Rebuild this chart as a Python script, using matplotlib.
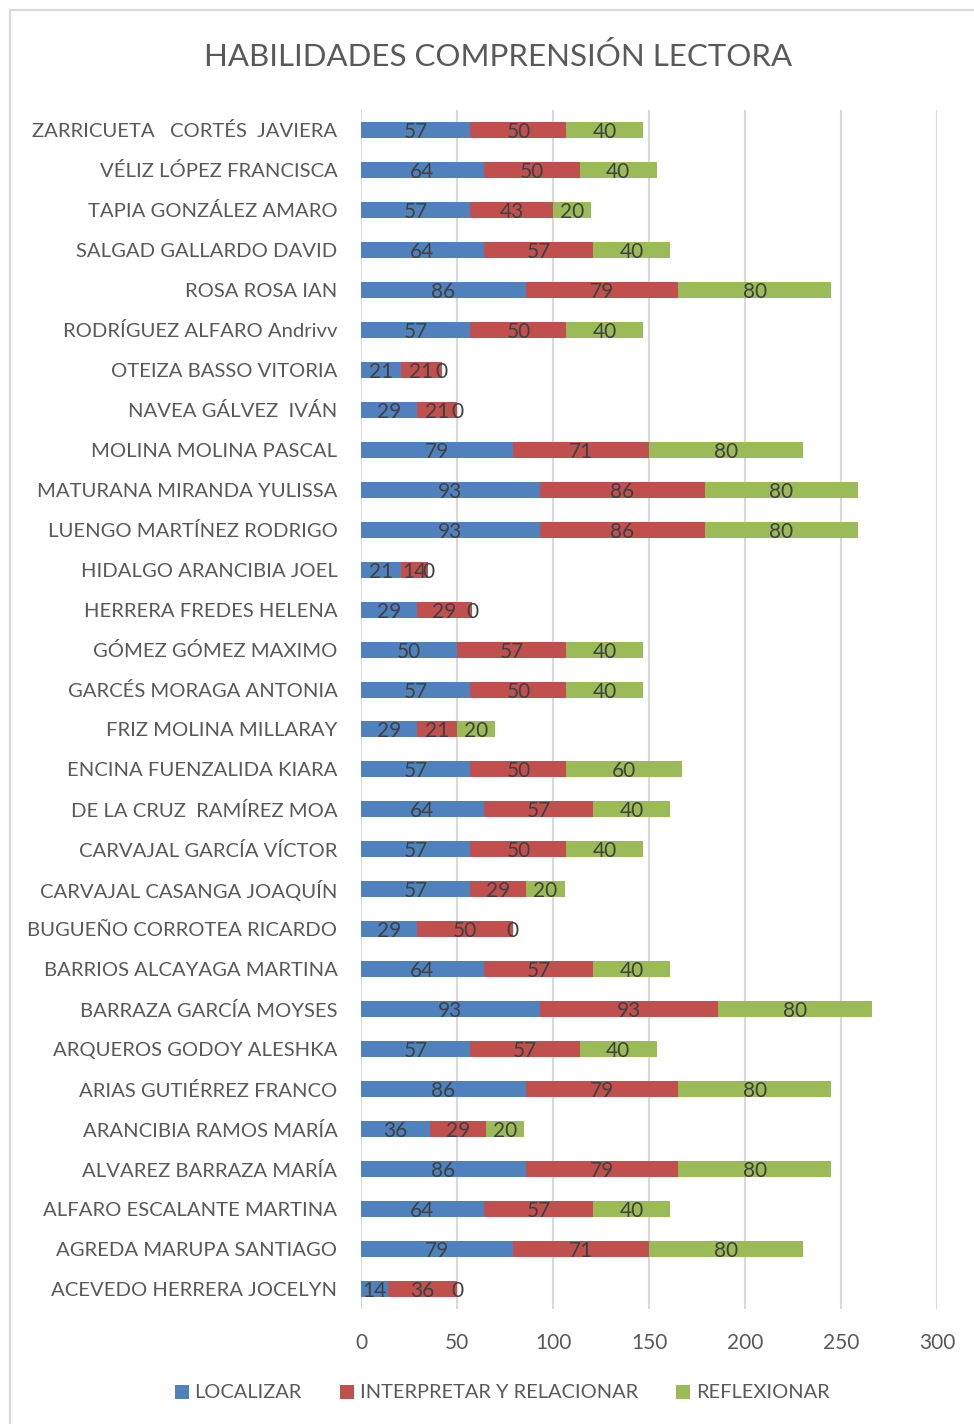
import numpy as np
import matplotlib.pyplot as plt
from matplotlib.patches import Rectangle

plt.rcParams['font.family'] = ['Lato', 'DejaVu Sans']

# categories listed top to bottom as in the chart
students = [
    'ZARRICUETA   CORTÉS  JAVIERA', 'VÉLIZ LÓPEZ FRANCISCA', 'TAPIA GONZÁLEZ AMARO',
    'SALGAD GALLARDO DAVID', 'ROSA ROSA IAN', 'RODRÍGUEZ ALFARO Andrivv',
    'OTEIZA BASSO VITORIA', 'NAVEA GÁLVEZ  IVÁN', 'MOLINA MOLINA PASCAL',
    'MATURANA MIRANDA YULISSA', 'LUENGO MARTÍNEZ RODRIGO', 'HIDALGO ARANCIBIA JOEL',
    'HERRERA FREDES HELENA', 'GÓMEZ GÓMEZ MAXIMO', 'GARCÉS MORAGA ANTONIA',
    'FRIZ MOLINA MILLARAY', 'ENCINA FUENZALIDA KIARA', 'DE LA CRUZ  RAMÍREZ MOA',
    'CARVAJAL GARCÍA VÍCTOR', 'CARVAJAL CASANGA JOAQUÍN', 'BUGUEÑO CORROTEA RICARDO',
    'BARRIOS ALCAYAGA MARTINA', 'BARRAZA GARCÍA MOYSES', 'ARQUEROS GODOY ALESHKA',
    'ARIAS GUTIÉRREZ FRANCO', 'ARANCIBIA RAMOS MARÍA', 'ALVAREZ BARRAZA MARÍA',
    'ALFARO ESCALANTE MARTINA', 'AGREDA MARUPA SANTIAGO', 'ACEVEDO HERRERA JOCELYN',
]
localizar = [57, 64, 57, 64, 86, 57, 21, 29, 79, 93, 93, 21, 29, 50, 57,
             29, 57, 64, 57, 57, 29, 64, 93, 57, 86, 36, 86, 64, 79, 14]
interpretar = [50, 50, 43, 57, 79, 50, 21, 21, 71, 86, 86, 14, 29, 57, 50,
               21, 50, 57, 50, 29, 50, 57, 93, 57, 79, 29, 79, 57, 71, 36]
reflexionar = [40, 40, 20, 40, 80, 40, 0, 0, 80, 80, 80, 0, 0, 40, 40,
               20, 60, 40, 40, 20, 0, 40, 80, 40, 80, 20, 80, 40, 80, 0]

series_names = ['LOCALIZAR', 'INTERPRETAR Y RELACIONAR', 'REFLEXIONAR']
colors = ['#4F81BD', '#C0504D', '#9BBB59']
txt = '#595959'

W, H = 974, 1424
fig = plt.figure(figsize=(W / 100, H / 100), dpi=100)
ax = fig.add_axes([361 / W, 1 - 1309 / H, (937 - 361) / W, (1309 - 110) / H])

# light border around the chart area
fig.patches.append(Rectangle((10 / W, -0.1), 1.2, 1 - 10 / H + 0.1,
                             transform=fig.transFigure, fill=False,
                             edgecolor='#d9d9d9', linewidth=1.5))

y = np.arange(len(students))[::-1]
left = np.zeros(len(students))
for vals, name, col in zip([localizar, interpretar, reflexionar], series_names, colors):
    vals = np.array(vals, dtype=float)
    bars = ax.barh(y, vals, left=left, height=0.4, color=col, label=name)
    labs = ax.bar_label(bars, labels=[f'{int(v)}' for v in vals], label_type='center',
                        color='#404040', fontsize=15)
    for t in labs:
        t.set_va('center_baseline')
    left += vals

ax.set_xlim(0, 300)
ax.set_ylim(-0.5, len(students) - 0.5)
ax.set_xticks(np.arange(0, 301, 50))
ax.set_yticks(y)
ax.set_yticklabels(students)
ax.tick_params(axis='both', length=0, labelcolor=txt)
ax.tick_params(axis='y', pad=17, labelsize=14.6)
ax.tick_params(axis='x', pad=17, labelsize=15)
ax.grid(axis='x', color='#d9d9d9', linewidth=1.5)
ax.set_axisbelow(True)
for s in ax.spines.values():
    s.set_visible(False)

fig.text(498 / W, 1 - 56 / H, 'HABILIDADES COMPRENSIÓN LECTORA', ha='center',
         va='center', fontsize=22.5, color=txt)

fig.legend(loc='center', bbox_to_anchor=(502 / W, 1 - 1393 / H), ncol=3,
           frameon=False, fontsize=14.4, labelcolor=txt, handlelength=0.7,
           handleheight=0.7, handletextpad=0.3, columnspacing=1.9)

fig.savefig('out.png', dpi=100)
